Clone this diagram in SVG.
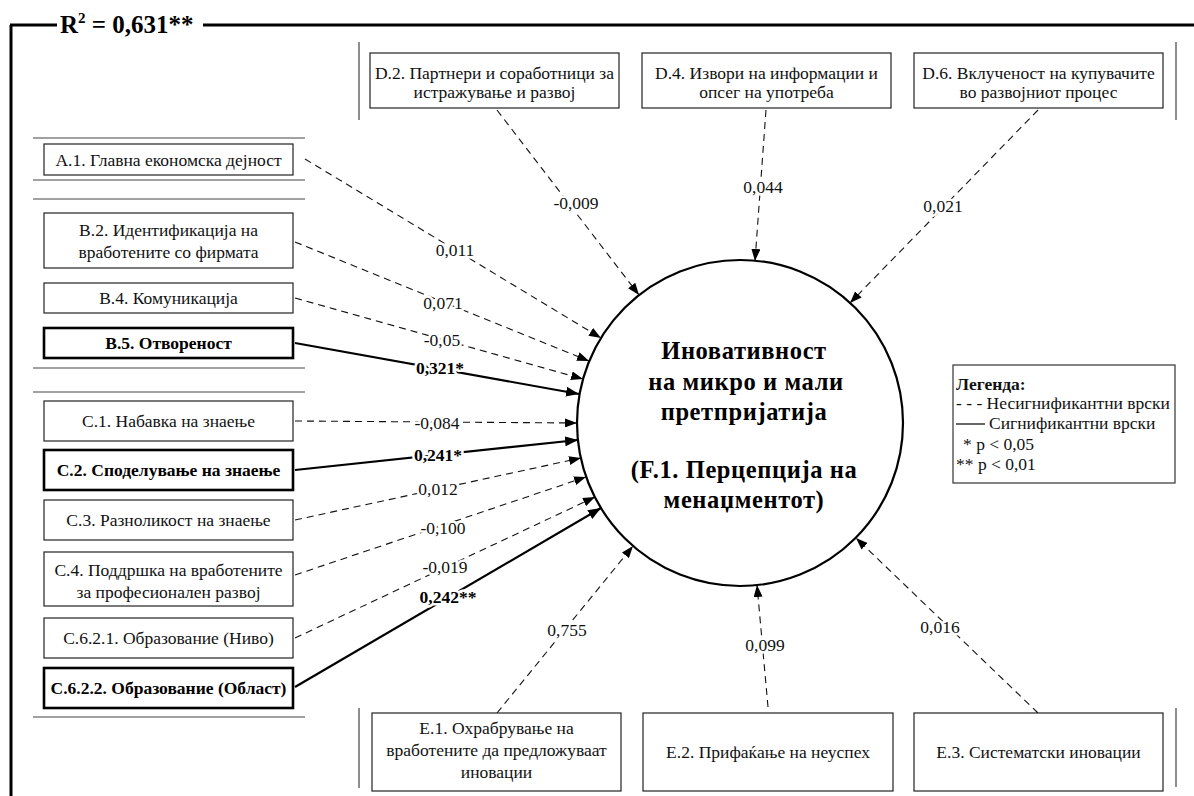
<svg xmlns="http://www.w3.org/2000/svg" width="1194" height="796" viewBox="0 0 1194 796">
<style>
.box{fill:#fff;stroke:#222;stroke-width:1.2}
.boxb{fill:#fff;stroke:#000;stroke-width:2.6}
.t{font-family:"Liberation Serif","DejaVu Serif",serif;font-size:17.5px;fill:#111;text-anchor:middle}
.tb{font-family:"Liberation Serif","DejaVu Serif",serif;font-size:17.5px;font-weight:bold;fill:#000;text-anchor:middle}
.sep{stroke:#444;stroke-width:1.2}
.dash{fill:none;stroke:#111;stroke-width:1.1;stroke-dasharray:7,5;marker-end:url(#ah)}
.solid{fill:none;stroke:#000;stroke-width:2.2;marker-end:url(#ahb)}
.lbl{font-family:"Liberation Serif","DejaVu Serif",serif;font-size:17.5px;fill:#111;text-anchor:middle;stroke:#fff;stroke-width:5;paint-order:stroke;stroke-linejoin:round}
.lblb{font-family:"Liberation Serif","DejaVu Serif",serif;font-size:17.5px;font-weight:bold;fill:#000;text-anchor:middle;stroke:#fff;stroke-width:5;paint-order:stroke;stroke-linejoin:round}
.ct{font-family:"Liberation Serif","DejaVu Serif",serif;font-size:24.5px;font-weight:bold;fill:#000;text-anchor:middle;letter-spacing:0.6px}
.lg{font-family:"Liberation Serif","DejaVu Serif",serif;font-size:17.5px;fill:#111}
</style>
<defs>
<marker id="ah" viewBox="0 0 12 9" refX="12" refY="4.5" markerWidth="12" markerHeight="9" markerUnits="userSpaceOnUse" orient="auto"><path d="M0,0 L12,4.5 L0,9 z" fill="#000"/></marker>
<marker id="ahb" viewBox="0 0 13 10" refX="13" refY="5" markerWidth="13" markerHeight="10" markerUnits="userSpaceOnUse" orient="auto"><path d="M0,0 L13,5 L0,10 z" fill="#000"/></marker>
</defs>
<rect x="0" y="0" width="1194" height="796" fill="#fff"/>

<g id="frame">
<path d="M10,25 H1194 M11,25 V796" stroke="#000" stroke-width="3" fill="none"/>
<rect x="57" y="8" width="146" height="30" fill="#fff"/>
<text x="60" y="33" font-family="Liberation Serif, DejaVu Serif, serif" font-size="25" font-weight="bold" fill="#000">R<tspan font-size="15" dy="-10">2</tspan><tspan dy="10"> = 0,631**</tspan></text>
</g>

<g id="separators">
<path class="sep" d="M33,138 H305 M33,180 H305 M33,199 H305 M33,368 H305 M33,392 H305 M33,717 H305"/>
<path class="sep" d="M359,42 V120 M1176,42 V120 M359,708 V788 M1176,708 V787"/>
</g>

<g id="connectors">
<path class="dash" d="M305,159 L601,338"/>
<path class="dash" d="M295,242 L589,361"/>
<path class="dash" d="M295,298 L583,379"/>
<path class="solid" d="M295,343 L579,394"/>
<path class="dash" d="M295,421 L577,423"/>
<path class="solid" d="M295,470 L578,440"/>
<path class="dash" d="M295,520 L581,458"/>
<path class="dash" d="M295,575 L586,477"/>
<path class="dash" d="M295,638 L595,497"/>
<path class="solid" d="M295,687 L601,508"/>
<path class="dash" d="M497,110 L639,295"/>
<path class="dash" d="M766,110 L755,261"/>
<path class="dash" d="M1038,110 L850,303"/>
<path class="dash" d="M497,713 L633,546"/>
<path class="dash" d="M768,707 L757,585"/>
<path class="dash" d="M1038,713 L856,538"/>
<text class="lbl" x="576" y="209">-0,009</text>
<text class="lbl" x="763" y="193">0,044</text>
<text class="lbl" x="943" y="212">0,021</text>
<text class="lbl" x="455" y="256">0,011</text>
<text class="lbl" x="443" y="309">0,071</text>
<text class="lbl" x="442" y="346">-0,05</text>
<text class="lblb" x="440" y="374">0,321*</text>
<text class="lbl" x="437" y="429">-0,084</text>
<text class="lblb" x="438" y="461">0,241*</text>
<text class="lbl" x="438" y="495">0,012</text>
<text class="lbl" x="443" y="534">-0,100</text>
<text class="lbl" x="445" y="573">-0,019</text>
<text class="lblb" x="448" y="603">0,242**</text>
<text class="lbl" x="567" y="636">0,755</text>
<text class="lbl" x="765" y="651">0,099</text>
<text class="lbl" x="940" y="633">0,016</text>
</g>

<g id="A1"><rect class="box" x="44" y="144" width="249" height="31"/><text class="t" x="168.5" y="165.5">А.1. Главна економска дејност</text></g>
<g id="B2"><rect class="box" x="44" y="213" width="249" height="55"/><text class="t" x="168.5" y="235.5">В.2. Идентификација на</text><text class="t" x="168.5" y="257.5">вработените со фирмата</text></g>
<g id="B4"><rect class="box" x="44" y="283" width="249" height="30"/><text class="t" x="168.5" y="304">В.4. Комуникација</text></g>
<g id="B5"><rect class="boxb" x="44" y="328" width="249" height="30"/><text class="tb" x="168.5" y="349">В.5. Отвореност</text></g>
<g id="C1"><rect class="box" x="44" y="401" width="249" height="40"/><text class="t" x="168.5" y="427">С.1. Набавка на знаење</text></g>
<g id="C2"><rect class="boxb" x="44" y="450" width="249" height="40"/><text class="tb" x="168.5" y="476">С.2. Споделување на знаење</text></g>
<g id="C3"><rect class="box" x="44" y="500" width="249" height="40"/><text class="t" x="168.5" y="526">С.3. Разноликост на знаење</text></g>
<g id="C4"><rect class="box" x="44" y="552" width="249" height="54"/><text class="t" x="168.5" y="575.5">С.4. Поддршка на вработените</text><text class="t" x="168.5" y="597.5">за професионален развој</text></g>
<g id="C621"><rect class="box" x="44" y="618" width="249" height="40"/><text class="t" x="168.5" y="644">С.6.2.1. Образование (Ниво)</text></g>
<g id="C622"><rect class="boxb" x="44" y="668" width="249" height="40"/><text class="tb" x="168.5" y="694">С.6.2.2. Образование (Област)</text></g>

<g id="D2"><rect class="box" x="370" y="53" width="249" height="55"/><text class="t" x="494.5" y="79">D.2. Партнери и соработници за</text><text class="t" x="494.5" y="98">истражување и развој</text></g>
<g id="D4"><rect class="box" x="642" y="53" width="249" height="55"/><text class="t" x="766.5" y="79">D.4. Извори на информации и</text><text class="t" x="766.5" y="98">опсег на употреба</text></g>
<g id="D6"><rect class="box" x="914" y="53" width="249" height="55"/><text class="t" x="1038.5" y="79">D.6. Вклученост на купувачите</text><text class="t" x="1038.5" y="98">во развојниот процес</text></g>

<g id="E1"><rect class="box" x="372" y="713" width="249" height="78"/><text class="t" x="496.5" y="734">Е.1. Охрабрување на</text><text class="t" x="496.5" y="756">вработените да предложуваат</text><text class="t" x="496.5" y="778">иновации</text></g>
<g id="E2"><rect class="box" x="643" y="713" width="250" height="78"/><text class="t" x="768" y="758">Е.2. Прифаќање на неуспех</text></g>
<g id="E3"><rect class="box" x="914" y="713" width="249" height="78"/><text class="t" x="1038.5" y="758">Е.3. Систематски иновации</text></g>

<g id="F1">
<circle cx="740" cy="423" r="163" fill="#fff" stroke="#000" stroke-width="2.2"/>
<text class="ct" x="744" y="359">Иновативност</text>
<text class="ct" x="746" y="390">на микро и мали</text>
<text class="ct" x="744" y="420">претпријатија</text>
<text class="ct" x="744" y="478">(F.1. Перцепција на</text>
<text class="ct" x="744" y="508">менаџментот)</text>
</g>

<g id="legend">
<rect x="953" y="365" width="222" height="118" fill="#fff" stroke="#333" stroke-width="1.2"/>
<text class="lg" x="956" y="390" font-weight="bold">Легенда:</text>
<text class="lg" x="956" y="409">- - - Несигнификантни врски</text>
<line x1="956" y1="424" x2="985" y2="424" stroke="#000" stroke-width="1.2"/>
<text class="lg" x="989" y="429">Сигнификантни врски</text>
<text class="lg" x="963" y="450">* p &lt; 0,05</text>
<text class="lg" x="956" y="470">** p &lt; 0,01</text>
</g>
</svg>
